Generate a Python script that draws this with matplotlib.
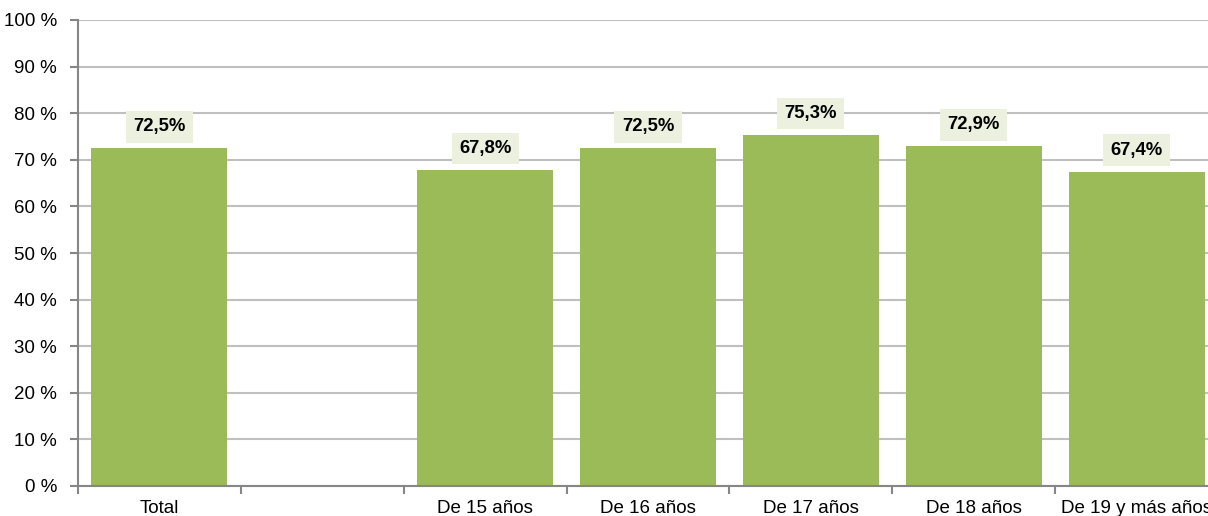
import numpy as np
import matplotlib
matplotlib.use("Agg")
import matplotlib.pyplot as plt
from matplotlib.ticker import FixedLocator

categories = ["Total", "", "De 15 años", "De 16 años", "De 17 años", "De 18 años", "De 19 y más años"]
values = [72.5, np.nan, 67.8, 72.5, 75.3, 72.9, 67.4]
labels = ["72,5%", "", "67,8%", "72,5%", "75,3%", "72,9%", "67,4%"]
yticks = list(range(0, 101, 10))
ytick_labels = [f"{v} %" for v in yticks]

plt.rcParams['font.family'] = ['Liberation Sans', 'DejaVu Sans']

W, H = 1208, 516
fig = plt.figure(figsize=(W / 100, H / 100), dpi=100)
ax = fig.add_axes([78 / W, (H - 486) / H, (1218 - 78) / W, (486 - 20) / H])

bar_color = "#9BBB59"
x = np.arange(len(categories))
for xi, v, lab in zip(x, values, labels):
    if np.isnan(v):
        continue
    ax.bar(xi, v, width=0.835, color=bar_color, zorder=2)
    ax.annotate(lab, xy=(xi, v), xytext=(0, 15.5), textcoords="offset points",
                ha="center", va="center", fontsize=13.3, fontweight="bold", color="black",
                bbox=dict(boxstyle="square,pad=0.4", facecolor="#EBF1DE", edgecolor="none"),
                zorder=3)

ax.set_xlim(-0.5, len(categories) - 0.5)
ax.set_ylim(0, 100)
ax.set_yticks(yticks)
ax.set_yticklabels(ytick_labels)
ax.yaxis.grid(True, color="#BFBFBF", linewidth=1.5, zorder=0)
ax.set_axisbelow(True)

ax.xaxis.set_major_locator(FixedLocator(np.arange(-0.5, len(categories), 1.0)))
ax.set_xticklabels([])
ax.set_xticks(x, minor=True)
ax.set_xticklabels(categories, minor=True)
ax.tick_params(axis="x", which="minor", length=0, pad=10, labelsize=13.5, labelcolor="black")
ax.tick_params(axis="x", which="major", length=6, width=1.5, color="#868686", direction="out")
ax.tick_params(axis="y", length=6, width=1.5, color="#868686", pad=9, labelsize=13.5, labelcolor="black")

for s in ["top", "right"]:
    ax.spines[s].set_visible(False)
for s in ["left", "bottom"]:
    ax.spines[s].set_color("#868686")
    ax.spines[s].set_linewidth(1.5)

fig.savefig("out.png", dpi=100)
